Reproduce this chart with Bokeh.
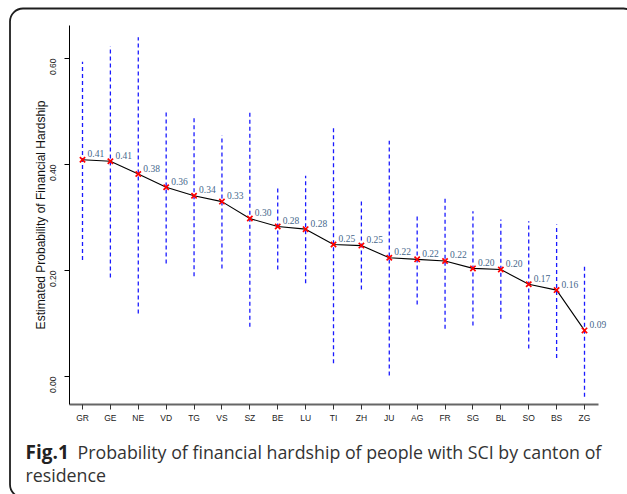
import math
from bokeh.plotting import figure
from bokeh.models import (Range1d, FixedTicker, Label, LabelSet, BoxAnnotation,
                          ColumnDataSource, LinearAxis)
from bokeh.embed import file_html
from bokeh.resources import INLINE

cantons = ["GR", "GE", "NE", "VD", "TG", "VS", "SZ", "BE", "LU", "TI",
           "ZH", "JU", "AG", "FR", "SG", "BL", "SO", "BS", "ZG"]
prob = [0.409, 0.406, 0.382, 0.357, 0.341, 0.330, 0.298, 0.283, 0.278, 0.249,
        0.247, 0.224, 0.221, 0.218, 0.204, 0.202, 0.174, 0.163, 0.087]
upper = [0.594, 0.623, 0.640, 0.500, 0.489, 0.455, 0.500, 0.357, 0.379, 0.474,
         0.331, 0.445, 0.302, 0.338, 0.312, 0.296, 0.293, 0.287, 0.209]
lower = [0.220, 0.187, 0.119, 0.213, 0.189, 0.204, 0.094, 0.202, 0.176, 0.025,
         0.164, 0.002, 0.136, 0.090, 0.096, 0.109, 0.053, 0.035, -0.038]
prob_labels = ["0.41", "0.41", "0.38", "0.36", "0.34", "0.33", "0.30", "0.28", "0.28", "0.25",
               "0.25", "0.22", "0.22", "0.22", "0.20", "0.20", "0.17", "0.16", "0.09"]
y_ticks = [0.0, 0.2, 0.4, 0.6]
y_tick_labels = ["0.00", "0.20", "0.40", "0.60"]
y_title = "Estimated Probability of Financial Hardship"
caption_bold = "Fig.1"
caption_line1 = "Probability of financial hardship of people with SCI by canton of"
caption_line2 = "residence"

xs = list(range(1, len(cantons) + 1))
src = ColumnDataSource(dict(x=xs, p=prob, up=upper, lo=lower, lab=prob_labels))

W, H = 627, 494
# pixel geometry of the plotting region (canvas px)
X1_PX, XSTEP = 82.0, 27.889          # position of first category, spacing
Y0_PX, YSCALE = 376.0, 530.0         # position of y=0, px per unit
def ux(px):
    return 1 + (px - X1_PX) / XSTEP
def uy(py):
    return (Y0_PX - py) / YSCALE

p = figure(width=W, height=H, output_backend="svg", toolbar_location=None,
           x_range=Range1d(ux(0), ux(W)), y_range=Range1d(uy(H), uy(0)),
           min_border=0, x_axis_type=None, y_axis_type=None)
p.outline_line_color = None
p.background_fill_color = "white"
p.border_fill_color = "white"

# error bars
p.segment(x0="x", y0="lo", x1="x", y1="up", source=src, line_color="#1a1aff",
          line_width=1.3, line_dash="4 3")
# line and markers
p.line(x="x", y="p", source=src, line_color="black", line_width=1.1)
p.scatter(x="x", y="p", source=src, marker="x", size=7.5, line_color="red", line_width=1.7)
p.add_layout(LabelSet(x="x", y="p", text="lab", source=src, x_offset=5, y_offset=6,
                      text_font_size="9.5px", text_color="#46688c", text_baseline="middle",
                      text_align="left", text_font="Liberation Sans"))

# axes drawn at fixed positions (L-shaped box)
x_left, x_right = ux(69), ux(598)
y_bot, y_top = uy(404), uy(25)

xa = LinearAxis(fixed_location=y_bot, bounds=(x_left, x_right))
xa.ticker = FixedTicker(ticks=xs)
xa.major_label_overrides = {i: c for i, c in zip(xs, cantons)}
xa.axis_line_color = "#666666"
xa.axis_line_width = 1.8
xa.major_tick_out = 5
xa.major_tick_in = 0
xa.major_tick_line_color = "#333333"
xa.minor_tick_line_color = None
xa.major_label_text_font = "Liberation Sans"
xa.major_label_text_font_size = "8.5px"
xa.major_label_text_color = "#222222"
xa.major_label_standoff = 3
p.add_layout(xa, "below")

ya = LinearAxis(fixed_location=x_left, bounds=(y_bot, y_top))
ya.ticker = FixedTicker(ticks=y_ticks)
ya.major_label_overrides = {t: l for t, l in zip(y_ticks, y_tick_labels)}
ya.axis_line_color = "black"
ya.axis_line_width = 1
ya.major_tick_out = 5
ya.major_tick_in = 0
ya.major_tick_line_color = "black"
ya.minor_tick_line_color = None
ya.major_label_orientation = math.pi / 2
ya.major_label_text_font = "Liberation Sans"
ya.major_label_text_font_size = "8.5px"
ya.major_label_text_color = "#222222"
ya.major_label_standoff = 12
ya.axis_label = y_title
ya.axis_label_text_font = "Liberation Sans"
ya.axis_label_text_font_style = "normal"
ya.axis_label_text_font_size = "12px"
ya.axis_label_text_color = "#111111"
ya.axis_label_standoff = -4
p.add_layout(ya, "left")

# caption
cap_font = "Open Sans"
p.add_layout(Label(x=25, y=451, x_units="canvas", y_units="canvas", text=caption_bold,
                   text_font=cap_font, text_font_style="bold", text_font_size="19px",
                   text_color="#222222", text_baseline="middle"))
p.add_layout(Label(x=77, y=451, x_units="canvas", y_units="canvas", text=caption_line1,
                   text_font=cap_font, text_font_size="17.8px",
                   text_color="#333333", text_baseline="middle"))
p.add_layout(Label(x=25, y=474, x_units="canvas", y_units="canvas", text=caption_line2,
                   text_font=cap_font, text_font_size="17.8px",
                   text_color="#333333", text_baseline="middle"))

# rounded frame around the whole figure
p.add_layout(BoxAnnotation(left=9.5, right=636, top=8, bottom=497,
                           left_units="canvas", right_units="canvas",
                           top_units="canvas", bottom_units="canvas",
                           fill_alpha=0, line_color="#1e1e1e", line_alpha=1.0,
                           line_width=1.8, border_radius=13, level="overlay"))

open("out.html", "w").write(file_html(p, INLINE))
